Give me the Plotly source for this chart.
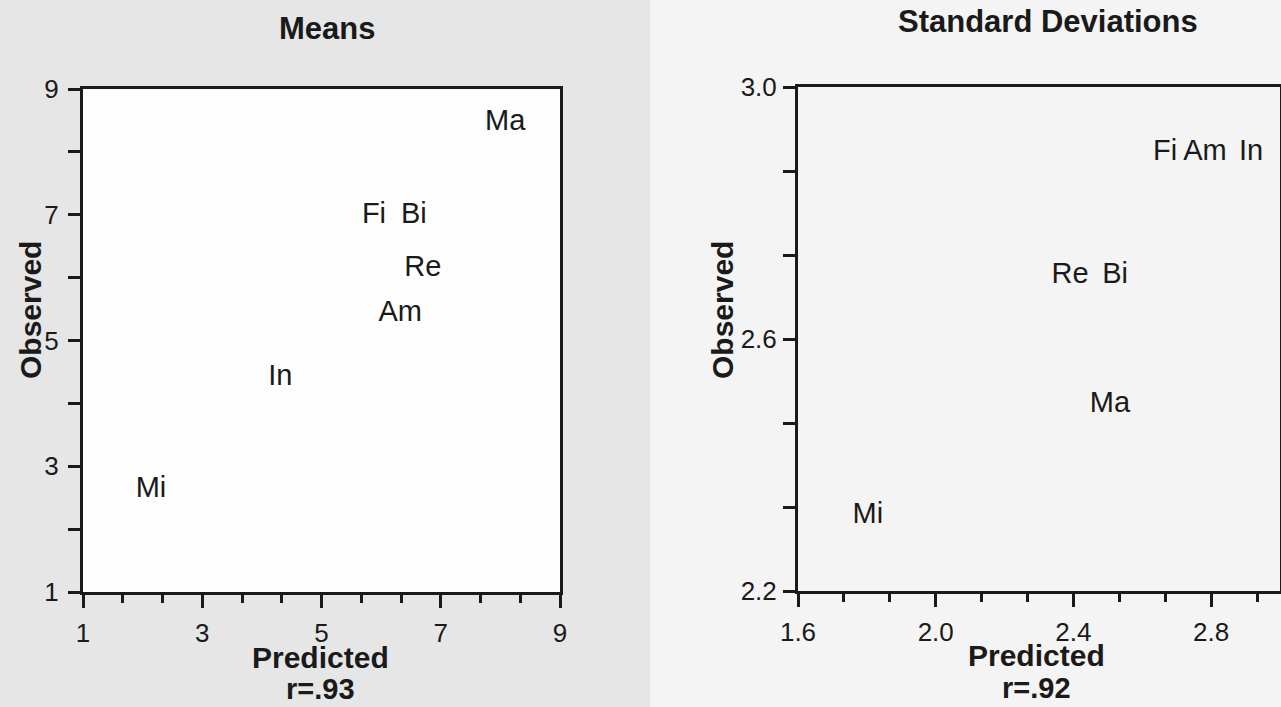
import plotly.graph_objects as go

# ---- data ----
mean_labels = ["Ma", "Fi", "Bi", "Re", "Am", "In", "Mi"]
mean_pred = [8.08, 5.88, 6.55, 6.70, 6.32, 4.31, 2.14]
mean_obs = [8.47, 6.98, 6.98, 6.14, 5.43, 4.40, 2.62]

sd_labels = ["Fi", "Am", "In", "Re", "Bi", "Ma", "Mi"]
sd_pred = [2.666, 2.782, 2.916, 2.39, 2.521, 2.506, 1.803]
sd_obs = [2.896, 2.896, 2.896, 2.701, 2.701, 2.495, 2.319]

mean_r = "r=.93"
sd_r = "r=.92"

FONT = "Liberation Sans, Arial, Helvetica, sans-serif"
INK = "#1a1a1a"
W, H = 1281, 707

fig = go.Figure()
fig.add_trace(go.Scatter(x=mean_pred, y=mean_obs, text=mean_labels, mode="text",
                         textposition="middle center",
                         textfont=dict(family=FONT, size=29, color=INK),
                         xaxis="x", yaxis="y", showlegend=False, hoverinfo="skip"))
fig.add_trace(go.Scatter(x=sd_pred, y=sd_obs, text=sd_labels, mode="text",
                         textposition="middle center",
                         textfont=dict(family=FONT, size=29, color=INK),
                         xaxis="x2", yaxis="y2", showlegend=False, hoverinfo="skip"))

axis_common = dict(showgrid=False, zeroline=False, showline=True, linecolor=INK,
                   linewidth=3, mirror=True, ticks="outside", tickcolor=INK,
                   tickwidth=2.5, automargin=False,
                   tickfont=dict(family=FONT, size=26, color=INK))

fig.update_layout(
    template="none",
    width=W, height=H,
    margin=dict(l=0, r=0, t=0, b=0, pad=0),
    paper_bgcolor="#e6e6e6",
    plot_bgcolor="#fdfdfd",
    xaxis=dict(domain=[83/W, 560/W], range=[1, 9], tick0=1, dtick=2,
               ticklen=13, ticklabelstandoff=3,
               minor=dict(tick0=1, dtick=2/3, ticklen=8, ticks="outside",
                          tickcolor=INK, tickwidth=2.5),
               anchor="y", **axis_common),
    yaxis=dict(domain=[1-592/H, 1-89/H], range=[1, 9], tick0=1, dtick=2,
               ticklen=12, ticklabelstandoff=4,
               minor=dict(tick0=1, dtick=1, ticklen=12, ticks="outside",
                          tickcolor=INK, tickwidth=2.5),
               anchor="x", **axis_common),
    xaxis2=dict(domain=[798/W, 1280/W], range=[1.6, 3.0], tick0=1.6, dtick=0.4,
                tickformat=".1f", ticklen=13, ticklabelstandoff=3,
                minor=dict(tick0=1.6, dtick=0.4/3, ticklen=8, ticks="outside",
                           tickcolor=INK, tickwidth=2.5),
                anchor="y2", **axis_common),
    yaxis2=dict(domain=[1-591/H, 1-87/H], range=[2.2, 3.0], tick0=2.2, dtick=0.4,
                tickformat=".1f", ticklen=12, ticklabelstandoff=1,
                minor=dict(tick0=2.2, dtick=0.4/3, ticklen=12, ticks="outside",
                           tickcolor=INK, tickwidth=2.5),
                anchor="x2", **axis_common),
    shapes=[dict(type="rect", xref="paper", yref="paper", x0=650/W, x1=1, y0=0, y1=1,
                 fillcolor="#f4f4f4", line=dict(width=0), layer="below")],
)

def ann(text, x, y, size=30, angle=0):
    fig.add_annotation(text=f"<b>{text}</b>", x=x/W, y=1-y/H, xref="paper", yref="paper",
                       showarrow=False, textangle=angle, xanchor="center", yanchor="middle",
                       font=dict(family=FONT, size=size, color=INK))

ann("Means", 327, 28, size=31)
ann("Standard Deviations", 1048, 22, size=31)
ann("Observed", 30, 310, angle=-90)
ann("Observed", 722, 310, angle=-90)
ann("Predicted", 320, 657)
ann(mean_r, 320, 689, size=29)
ann("Predicted", 1036, 655)
ann(sd_r, 1036, 688, size=29)

fig.write_html("out.html", config={"displayModeBar": False},
               post_script="document.body.style.margin='0';document.body.style.overflow='hidden';")
